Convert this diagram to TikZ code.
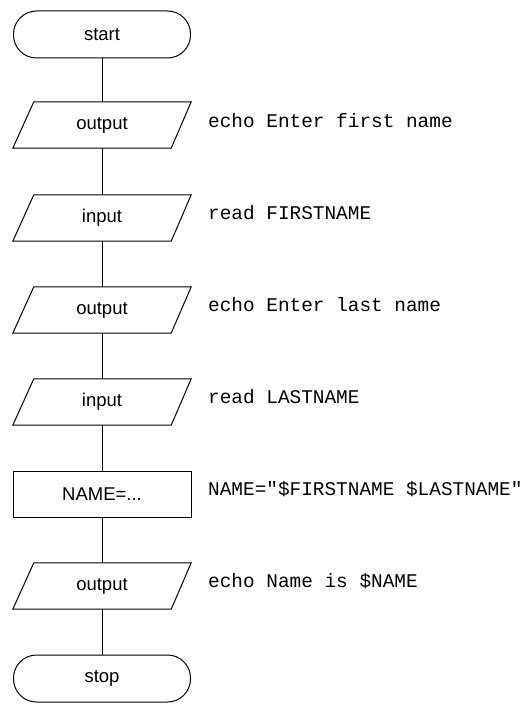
\documentclass[tikz,border=0pt]{standalone}
\usepackage{fontspec}
\setmainfont{Liberation Sans}
\newfontfamily\codefont{Liberation Mono}
\begin{document}
\begin{tikzpicture}[x=1pt,y=-1pt,
  line/.style={draw=black,line width=1pt},
  term/.style={line,rounded corners=23pt,minimum width=177pt,minimum height=47pt,inner sep=0pt,font=\fontsize{18.5}{20}\selectfont},
  procbox/.style={line,minimum width=178pt,minimum height=46pt,inner sep=0pt,font=\fontsize{18.5}{20}\selectfont},
  iobox/.style={minimum width=178pt,minimum height=46pt,inner sep=0pt,font=\fontsize{18.5}{20}\selectfont},
  code/.style={anchor=west,inner sep=0pt,font=\codefont\fontsize{19.4}{20}\selectfont}
]
\fill[white] (0,0) rectangle (528,722);
\useasboundingbox (0,0) rectangle (528,722);

\node[term] (start) at (102,34.5) {start};
\node[iobox] (o1) at (102,125) {output};
\node[iobox] (i1) at (102,218) {input};
\node[iobox] (o2) at (102,310) {output};
\node[iobox] (i2) at (102,402) {input};
\node[procbox] (nm) at (102,494) {NAME=...};
\node[iobox] (o3) at (102,586) {output};
\node[term] (stop) at (102,678.5) {stop};

\foreach \n in {o1,i1,o2,i2,o3}{
  \draw[line] ([xshift=21pt]\n.north west) -- (\n.north east) -- ([xshift=-20pt]\n.south east) -- (\n.south west) -- cycle;
}

\draw[line] (start) -- (o1);
\draw[line] (o1) -- (i1);
\draw[line] (i1) -- (o2);
\draw[line] (o2) -- (i2);
\draw[line] (i2) -- (nm);
\draw[line] (nm) -- (o3);
\draw[line] (o3) -- (stop);

\node[code] (c1) at (208,121) {echo Enter first name};
\node[code] (c2) at (208,213) {read FIRSTNAME};
\node[code] (c3) at (208,305) {echo Enter last name};
\node[code] (c4) at (208,397) {read LASTNAME};
\node[code] (c5) at (208,489) {NAME="\$FIRSTNAME \$LASTNAME"};
\node[code] (c6) at (208,581) {echo Name is \$NAME};
\end{tikzpicture}
\end{document}
